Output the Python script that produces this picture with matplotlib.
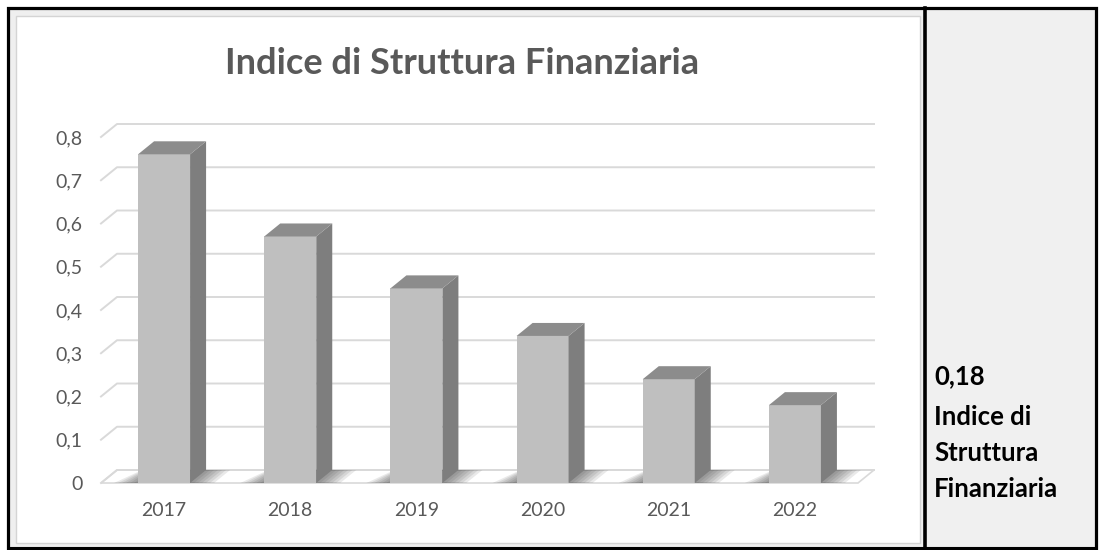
import matplotlib
matplotlib.use("Agg")
import matplotlib.pyplot as plt
from matplotlib.patches import Polygon, Rectangle
from matplotlib.lines import Line2D

# ---- data ----
years = ["2017", "2018", "2019", "2020", "2021", "2022"]
values = [0.76, 0.57, 0.45, 0.34, 0.24, 0.18]
y_ticks = [0, 0.1, 0.2, 0.3, 0.4, 0.5, 0.6, 0.7, 0.8]
y_labels = ["0", "0,1", "0,2", "0,3", "0,4", "0,5", "0,6", "0,7", "0,8"]
chart_title = "Indice di Struttura Finanziaria"
side_value = "0,18"
side_lines = ["Indice di", "Struttura", "Finanziaria"]

# ---- canvas (pixel helpers) ----
W, H = 1101, 550
fig = plt.figure(figsize=(W / 100, H / 100), dpi=100)
fig.patch.set_facecolor("white")


def fx(px):
    return px / W


def fy(py):
    return 1 - py / H


def box(x0, y0, x1, y1, **kw):
    fig.add_artist(Rectangle((fx(x0), fy(y1)), fx(x1) - fx(x0), fy(y0) - fy(y1),
                             transform=fig.transFigure, **kw))


# table cells
box(9, 9, 924, 546, facecolor="#efefef", edgecolor="none", zorder=-2)
box(16, 16, 920, 543, facecolor="white", edgecolor="#d4d4d4", linewidth=1.0, zorder=-1)
box(926, 9, 1095, 546, facecolor="#f0f0f0", edgecolor="none", zorder=-2)
box(7.5, 7.5, 1095.5, 547.5, facecolor="none", edgecolor="black", linewidth=2.3, zorder=5)
fig.add_artist(Line2D([fx(925), fx(925)], [fy(7.5), fy(547.5)], color="black",
                      linewidth=2.6, transform=fig.transFigure, zorder=5))

# ---- chart axes ----
L, R, T, B = 101, 858, 137, 483
ax = fig.add_axes([fx(L), fy(B), (R - L) / W, (B - T) / H])
ax.set_zorder(1)
ax.set_xlim(-0.5, len(years) - 0.5)
ax.set_ylim(0, 0.8)
ax.patch.set_alpha(0)
for s in ax.spines.values():
    s.set_visible(False)

px_x = (R - L) / len(years)      # pixels per category
px_y = (B - T) / 0.8             # pixels per unit value
dx = 16 / px_x                   # depth offset (horizontal)
dy = 13 / px_y                   # depth offset (vertical)
bw = 52 / px_x                   # bar width

grid_c = "#d9d9d9"
x_left, x_right = ax.get_xlim()

# floor
ax.add_patch(Polygon([(x_left, 0), (x_right, 0), (x_right + dx, dy), (x_left + dx, dy)],
                     closed=True, facecolor="white", edgecolor=grid_c, linewidth=1.2,
                     clip_on=False, zorder=1))

# back-wall gridlines with side-wall diagonal
for t in y_ticks:
    ax.plot([x_left, x_left + dx, x_right + dx], [t, t + dy, t + dy],
            color=grid_c, linewidth=1.4, clip_on=False, zorder=1.5)

# soft floor shadows
shade = 24 / px_x
n_layers = 6
for i, v in enumerate(values):
    x0, x1 = i - bw / 2, i + bw / 2
    for k in range(n_layers):
        e = shade * (1 - k / n_layers)
        ax.add_patch(Polygon([(x0 - e, 0), (x1 + e, 0), (x1 + dx + e, dy), (x0 + dx - e * 0.5, dy)],
                             closed=True, facecolor="#3a3a3a", edgecolor="none",
                             alpha=0.11, clip_on=False, zorder=2))

# 3D columns
front_c, side_c, top_c = "#bfbfbf", "#7e7e7e", "#8c8c8c"
for i, v in enumerate(values):
    x0, x1 = i - bw / 2, i + bw / 2
    ax.bar(i, v, width=bw, color=front_c, edgecolor="none", zorder=4)
    ax.add_patch(Polygon([(x1, 0), (x1, v), (x1 + dx, v + dy), (x1 + dx, dy)],
                         closed=True, facecolor=side_c, edgecolor="none",
                         clip_on=False, zorder=4))
    ax.add_patch(Polygon([(x0, v), (x1, v), (x1 + dx, v + dy), (x0 + dx, v + dy)],
                         closed=True, facecolor=top_c, edgecolor="none",
                         clip_on=False, zorder=4))

tick_family = ["Lato", "DejaVu Sans"]
ax.set_yticks(y_ticks, labels=y_labels)
ax.set_xticks(range(len(years)), labels=years)
ax.tick_params(axis="both", length=0)
ax.tick_params(axis="y", pad=13.5)
ax.tick_params(axis="x", pad=14)
for lab in ax.get_xticklabels() + ax.get_yticklabels():
    lab.set_fontfamily(tick_family)
    lab.set_fontsize(14)
    lab.set_color("#595959")

# title
fig.text(fx(462), fy(74), chart_title, ha="center", va="baseline",
         fontsize=26, fontweight="bold", color="#595959", family=["Lato", "DejaVu Sans"])

# side cell text
side_kw = dict(ha="left", va="baseline", fontsize=18.5, fontweight="bold", color="black",
               family=["Lato", "DejaVu Sans"])
fig.text(fx(934), fy(384), side_value, **side_kw)
for j, line in enumerate(side_lines):
    fig.text(fx(934), fy(425 + 36 * j), line, **side_kw)

fig.savefig("out.png", dpi=100, facecolor=fig.get_facecolor())
